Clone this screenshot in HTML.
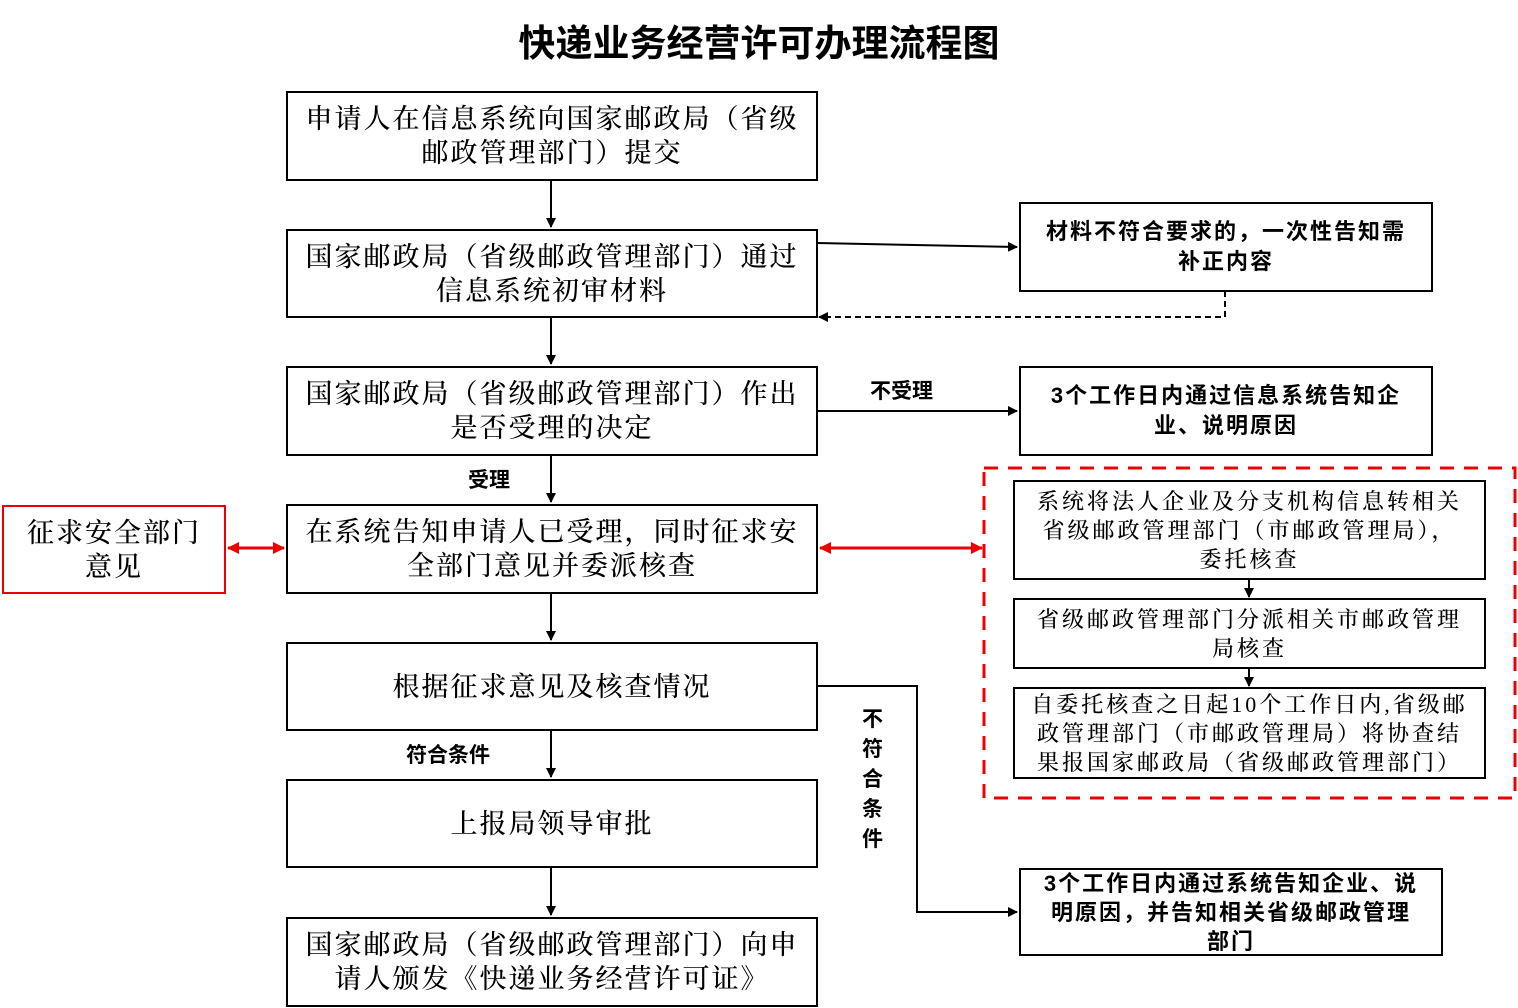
<!DOCTYPE html>
<html><head><meta charset="utf-8"><style>
body{margin:0;width:1518px;height:1008px;background:#fff;position:relative;overflow:hidden;font-family:"Liberation Serif","Noto Serif CJK SC",serif;}
.b{position:absolute;box-sizing:border-box;border:2px solid #000;display:flex;align-items:center;justify-content:center;text-align:center;background:#fff;}
.m{font-size:27px;letter-spacing:2px;line-height:34px;font-weight:500;}
.r{font-family:"Liberation Sans","Noto Sans CJK SC",sans-serif;font-weight:bold;font-size:22px;letter-spacing:2px;line-height:30px;}
.s{font-size:22px;letter-spacing:3px;line-height:29px;font-weight:500;}
.t{position:absolute;font-family:"Liberation Sans","Noto Sans CJK SC",sans-serif;font-weight:bold;font-size:21px;}
</style></head><body>
<div style="position:absolute;left:0;width:1518px;top:13px;text-align:center;font-size:37px;font-weight:bold;font-family:'Liberation Sans','Noto Sans CJK SC',sans-serif;">快递业务经营许可办理流程图</div>
<svg width="1518" height="1008" style="position:absolute;left:0;top:0">
<defs>
<marker id="a" markerWidth="10" markerHeight="10" refX="9" refY="5" orient="auto" markerUnits="userSpaceOnUse"><path d="M0,0L10,5L0,10z"/></marker>
<marker id="rr" markerWidth="12" markerHeight="12" refX="11" refY="6" orient="auto-start-reverse" markerUnits="userSpaceOnUse"><path d="M0,0L12,6L0,12z" fill="#e00"/></marker>
</defs>
<g stroke="#000" stroke-width="2" fill="none">
<line x1="551" y1="180" x2="551" y2="227" marker-end="url(#a)"/>
<line x1="551" y1="317" x2="551" y2="364" marker-end="url(#a)"/>
<line x1="551" y1="455" x2="551" y2="502" marker-end="url(#a)"/>
<line x1="551" y1="593" x2="551" y2="640" marker-end="url(#a)"/>
<line x1="551" y1="730" x2="551" y2="777" marker-end="url(#a)"/>
<line x1="551" y1="867" x2="551" y2="915" marker-end="url(#a)"/>
<line x1="817" y1="243" x2="1017" y2="247" marker-end="url(#a)"/>
<polyline points="1225,291 1225,317 819,317" stroke-dasharray="6,4" marker-end="url(#a)"/>
<line x1="817" y1="411" x2="1017" y2="411" marker-end="url(#a)"/>
<polyline points="817,686 917,686 917,912 1017,912" marker-end="url(#a)"/>
<line x1="1249" y1="579" x2="1249" y2="597" marker-end="url(#a)"/>
<line x1="1249" y1="668" x2="1249" y2="686" marker-end="url(#a)"/>
</g>
<g stroke="#e00" stroke-width="3" fill="none">
<line x1="228" y1="548" x2="284" y2="548" marker-start="url(#rr)" marker-end="url(#rr)"/>
<line x1="820" y1="548" x2="982" y2="548" marker-start="url(#rr)" marker-end="url(#rr)"/>
<rect x="984" y="468" width="531" height="330" stroke-dasharray="14,10"/>
</g>
</svg>
<div class="b m" style="left:286px;top:91px;width:532px;height:90px">申请人在信息系统向国家邮政局（省级<br>邮政管理部门）提交</div>
<div class="b m" style="left:286px;top:229px;width:532px;height:89px">国家邮政局（省级邮政管理部门）通过<br>信息系统初审材料</div>
<div class="b m" style="left:286px;top:366px;width:532px;height:90px">国家邮政局（省级邮政管理部门）作出<br>是否受理的决定</div>
<div class="b m" style="left:286px;top:504px;width:532px;height:90px">在系统告知申请人已受理，同时征求安<br>全部门意见并委派核查</div>
<div class="b m" style="left:286px;top:642px;width:532px;height:89px">根据征求意见及核查情况</div>
<div class="b m" style="left:286px;top:779px;width:532px;height:89px">上报局领导审批</div>
<div class="b m" style="left:286px;top:917px;width:532px;height:90px">国家邮政局（省级邮政管理部门）向申<br>请人颁发《快递业务经营许可证》</div>
<div class="b m" style="left:2px;top:505px;width:224px;height:89px;border-color:#e00">征求安全部门<br>意见</div>
<div class="b r" style="left:1019px;top:202px;width:414px;height:90px">材料不符合要求的，一次性告知需<br>补正内容</div>
<div class="b r" style="left:1019px;top:366px;width:414px;height:90px">3个工作日内通过信息系统告知企<br>业、说明原因</div>
<div class="b r" style="left:1019px;top:868px;width:424px;height:88px;line-height:29px">3个工作日内通过系统告知企业、说<br>明原因，并告知相关省级邮政管理<br>部门</div>
<div class="b s" style="left:1013px;top:480px;width:473px;height:100px">系统将法人企业及分支机构信息转相关<br>省级邮政管理部门（市邮政管理局），<br>委托核查</div>
<div class="b s" style="left:1013px;top:598px;width:473px;height:71px">省级邮政管理部门分派相关市邮政管理<br>局核查</div>
<div class="b s" style="left:1013px;top:687px;width:473px;height:92px">自委托核查之日起10个工作日内,省级邮<br>政管理部门（市邮政管理局）将协查结<br>果报国家邮政局（省级邮政管理部门）</div>
<div class="t" style="left:870px;top:375px">不受理</div>
<div class="t" style="left:468px;top:464px">受理</div>
<div class="t" style="left:406px;top:739px">符合条件</div>
<div class="t" style="left:862px;top:705px;width:24px;line-height:30px">不符合条件</div>
</body></html>
